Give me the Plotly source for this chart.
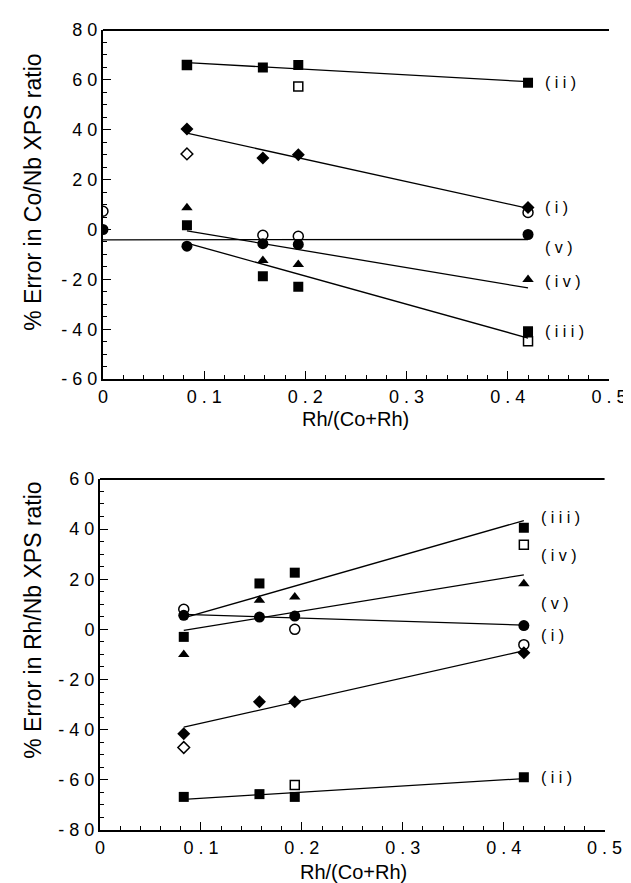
import numpy as np
import plotly.graph_objects as go

# ---------------- data ----------------
x4 = [0.083, 0.158, 0.193, 0.42]
x5 = [0.0, 0.083, 0.158, 0.193, 0.42]

# top panel: % error in Co/Nb XPS ratio
co_i = [40.3, 28.7, 30.0, 8.8]
co_i_open_x = [0.083]
co_i_open = [30.3]
co_ii = [66.0, 65.0, 66.0, 58.8]
co_ii_open_x = [0.083, 0.193]
co_ii_open = [66.0, 57.3]
co_iii = [1.7, -18.7, -23.0, -40.8]
co_iii_open_x = [0.42]
co_iii_open = [-44.8]
co_iv = [8.7, -12.4, -14.0, -20.0]
co_v = [0.0, -6.7, -5.7, -6.0, -2.0]
co_v_open_x = [0.0, 0.158, 0.193, 0.42]
co_v_open = [7.3, -2.3, -2.7, 6.8]

# bottom panel: % error in Rh/Nb XPS ratio
rh_i = [-41.6, -28.9, -28.9, -9.3]
rh_i_open_x = [0.083]
rh_i_open = [-47.1]
rh_ii = [-66.8, -65.7, -66.8, -59.0]
rh_ii_open_x = [0.193]
rh_ii_open = [-62.1]
rh_iii = [-3.0, 18.3, 22.6, 40.5]
rh_iii_open_x = [0.42]
rh_iii_open = [33.7]
rh_iv = [-10.0, 11.6, 12.9, 18.2]
rh_v = [5.6, 4.9, 5.3, 1.5]
rh_v_open_x = [0.083, 0.193, 0.42]
rh_v_open = [8.0, 0.0, -6.1]

series_labels = ["( i )", "( i i )", "( i i i )", "( i v )", "( v )"]
top_label_y = [8.8, 58.8, -40.8, -20.8, -7.2]
bot_label_y = [-2.5, -59.0, 44.5, 29.4, 10.2]

x_ticks = [0, 0.1, 0.2, 0.3, 0.4, 0.5]
x_ticktext = ["0", "0 . 1", "0 . 2", "0 . 3", "0 . 4", "0 . 5"]
top_yticks = [80, 60, 40, 20, 0, -20, -40, -60]
bot_yticks = [60, 40, 20, 0, -20, -40, -60, -80]
x_title = "Rh/(Co+Rh)"
top_title = "% Error in Co/Nb XPS ratio"
bot_title = "% Error in Rh/Nb XPS ratio"


def ytxt(v):
    s = " ".join(str(abs(v)))
    return ("- " + s) if v < 0 else s


FONT = "Liberation Sans"
W, H = 631, 883
fig = go.Figure()

SIZE = {"diamond": 10, "square": 10, "triangle-up": 10, "circle": 11}


def add_pts(x, y, sym, xa, ya, open_=False):
    size = SIZE[sym]
    if open_:
        marker = dict(symbol=sym + "-open", size=size - 1, color="black",
                      line=dict(width=1.5, color="black"))
    else:
        marker = dict(symbol=sym, size=size, color="black")
    fig.add_trace(go.Scatter(x=x, y=y, mode="markers", xaxis=xa, yaxis=ya, marker=marker,
                             showlegend=False, hoverinfo="skip"))


def add_fit(x, y, xa, ya):
    k, b = np.polyfit(x, y, 1)
    xs = np.array([min(x), max(x)])
    fig.add_trace(go.Scatter(x=xs, y=k * xs + b, mode="lines", xaxis=xa, yaxis=ya,
                             line=dict(color="black", width=1.3),
                             showlegend=False, hoverinfo="skip"))


# top panel
xa, ya = "x", "y"
add_fit(x4, co_i, xa, ya)
add_fit(x4, co_ii, xa, ya)
add_fit(x4, co_iii, xa, ya)
add_fit(x4, co_iv, xa, ya)
add_fit(x5, co_v, xa, ya)
add_pts(x4, co_ii, "square", xa, ya)
add_pts(co_ii_open_x, co_ii_open, "square", xa, ya, True)
add_pts(x4, co_i, "diamond", xa, ya)
add_pts(co_i_open_x, co_i_open, "diamond", xa, ya, True)
add_pts(x4, co_iii, "square", xa, ya)
add_pts(co_iii_open_x, co_iii_open, "square", xa, ya, True)
add_pts(x4, co_iv, "triangle-up", xa, ya)
add_pts(x5, co_v, "circle", xa, ya)
add_pts(co_v_open_x, co_v_open, "circle", xa, ya, True)

# bottom panel
xa, ya = "x2", "y2"
add_fit(x4, rh_i, xa, ya)
add_fit(x4, rh_ii, xa, ya)
add_fit(x4, rh_iii, xa, ya)
add_fit(x4, rh_iv, xa, ya)
add_fit(x4, rh_v, xa, ya)
add_pts(x4, rh_ii, "square", xa, ya)
add_pts(rh_ii_open_x, rh_ii_open, "square", xa, ya, True)
add_pts(x4, rh_i, "diamond", xa, ya)
add_pts(rh_i_open_x, rh_i_open, "diamond", xa, ya, True)
add_pts(x4, rh_iii, "square", xa, ya)
add_pts(rh_iii_open_x, rh_iii_open, "square", xa, ya, True)
add_pts(x4, rh_iv, "triangle-up", xa, ya)
add_pts(x4, rh_v, "circle", xa, ya)
add_pts(rh_v_open_x, rh_v_open, "circle", xa, ya, True)

annotations = []
for lab, yv in zip(series_labels, top_label_y):
    annotations.append(dict(x=0.435, y=yv, xref="x", yref="y", text=lab, showarrow=False,
                            xanchor="left", yanchor="middle",
                            font=dict(family=FONT, size=16, color="black")))
for lab, yv in zip(series_labels, bot_label_y):
    annotations.append(dict(x=0.435, y=yv, xref="x2", yref="y2", text=lab, showarrow=False,
                            xanchor="left", yanchor="middle",
                            font=dict(family=FONT, size=16, color="black")))

# axis titles placed as paper annotations (pixel positions converted to paper coords)
L, R, T, B = 92, 21, 20, 61
pw, ph = W - L - R, H - T - B


def px(xp):
    return (xp - L) / pw


def py(yp):
    return (H - B - yp) / ph


annotations += [
    dict(x=px(23), y=py(183), xref="paper", yref="paper", text=top_title, textangle=-90,
         showarrow=False, xanchor="center", yanchor="middle",
         font=dict(family=FONT, size=23, color="black")),
    dict(x=px(23), y=py(612), xref="paper", yref="paper", text=bot_title, textangle=-90,
         showarrow=False, xanchor="center", yanchor="middle",
         font=dict(family=FONT, size=23, color="black")),
    dict(x=px(352), y=py(410), xref="paper", yref="paper", text=x_title,
         showarrow=False, xanchor="center", yanchor="middle",
         font=dict(family=FONT, size=20, color="black")),
    dict(x=px(350), y=py(864), xref="paper", yref="paper", text=x_title,
         showarrow=False, xanchor="center", yanchor="middle",
         font=dict(family=FONT, size=20, color="black")),
]

common_x = dict(range=[0, 0.5], tickvals=x_ticks, ticktext=x_ticktext, ticks="inside",
                ticklen=8, tickwidth=1, tickcolor="black", showline=True, linecolor="black",
                linewidth=2, showgrid=False, zeroline=False, mirror=False,
                tickfont=dict(family=FONT, size=18, color="black"),
                minor=dict(dtick=0.02, ticks="inside", ticklen=4, tickcolor="black", tickwidth=1))
common_y = dict(ticks="inside", ticklen=8, tickwidth=1, tickcolor="black", showline=True,
                linecolor="black", linewidth=2, showgrid=False, zeroline=False,
                tickfont=dict(family=FONT, size=18, color="black"),
                minor=dict(dtick=5, ticks="inside", ticklen=4, tickcolor="black", tickwidth=1))

fig.update_layout(
    width=W, height=H,
    margin=dict(l=L, r=R, t=T, b=B),
    paper_bgcolor="white", plot_bgcolor="white",
    xaxis=dict(common_x, domain=[3 / pw, 1], anchor="y"),
    yaxis=dict(common_y, domain=[py(370), 1], range=[-60, 80], tickvals=top_yticks,
               ticktext=[ytxt(v) for v in top_yticks], anchor="x"),
    xaxis2=dict(common_x, domain=[0, 513.5 / pw], anchor="y2"),
    yaxis2=dict(common_y, domain=[0, py(470)], range=[-80, 60], tickvals=bot_yticks,
                ticktext=[ytxt(v) for v in bot_yticks], anchor="x2"),
    annotations=annotations,
    shapes=[
        dict(type="line", xref="x domain", yref="y domain", x0=0, x1=1, y0=1, y1=1,
             line=dict(color="black", width=2)),
        dict(type="line", xref="x2 domain", yref="y2 domain", x0=0, x1=1, y0=1, y1=1,
             line=dict(color="black", width=2)),
    ],
)

fig.write_html("out.html")
